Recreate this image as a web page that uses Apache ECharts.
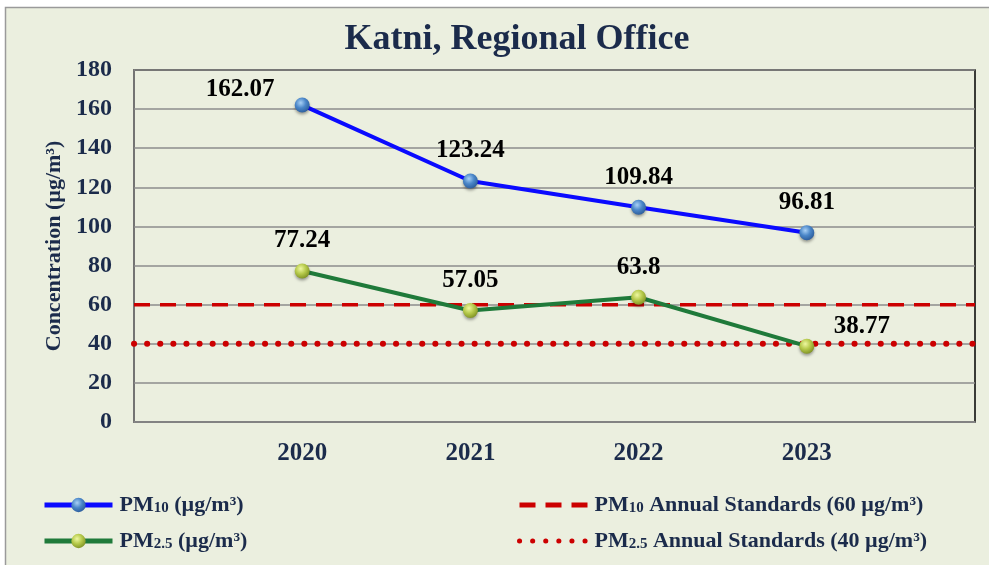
<!DOCTYPE html>
<html><head><meta charset="utf-8">
<script src="https://cdn.jsdelivr.net/npm/echarts@6/dist/echarts.min.js"></script>
<style>html,body{margin:0;padding:0;background:#fff;}#c{width:989px;height:565px;}</style>
</head><body><div id="c"></div>
<script>
const categories = ['', '2020', '2021', '2022', '2023', ''];
const pm10 = [null, 162.07, 123.24, 109.84, 96.81, null];
const pm25 = [null, 77.24, 57.05, 63.8, 38.77, null];
const pm10Standard = 60;
const pm25Standard = 40;
const yTicks = [0, 20, 40, 60, 80, 100, 120, 140, 160, 180];

const serif = '"Liberation Serif","Times New Roman",serif';
const navy = '#1b2b4b';

const pm10Offsets = {1: [-62, 14]};
const pm25Offsets = {4: [55, 10]};

function sphere(c1, c2, c3) {
  return {type: 'radial', x: 0.4, y: 0.35, r: 0.7,
    colorStops: [{offset: 0, color: c1}, {offset: 0.5, color: c2}, {offset: 1, color: c3}]};
}

function mkData(arr, offs) {
  return arr.map((v, i) => {
    if (v == null) return null;
    const d = {value: v};
    if (offs[i]) d.label = {offset: offs[i]};
    return d;
  });
}

const labelStyle = {show: true, position: 'top', distance: 10, fontFamily: serif, fontWeight: 'bold', fontSize: 25, color: '#000'};

const legendRich = {
  a: {fontFamily: serif, fontWeight: 'bold', fontSize: 22, color: navy},
  s: {fontFamily: serif, fontWeight: 'bold', fontSize: 15, color: navy, verticalAlign: 'bottom', padding: [5, 0, 0, 0]}
};
function legendFmt(name) {
  const map = {
    'PM10': '{a|PM}{s|10}{a| (µg/m³)}',
    'PM25': '{a|PM}{s|2.5}{a| (µg/m³)}',
    'PM10S': '{a|PM}{s|10}{a| Annual Standards (' + pm10Standard + ' µg/m³)}',
    'PM25S': '{a|PM}{s|2.5}{a| Annual Standards (' + pm25Standard + ' µg/m³)}'
  };
  return map[name];
}

const chart = echarts.init(document.getElementById('c'));
chart.setOption({
  backgroundColor: '#ffffff',
  graphic: [{type: 'rect', z: -10, shape: {x: 5.5, y: 7.5, width: 1000, height: 600},
    style: {fill: '#ebefdf', stroke: '#9a9a9a', lineWidth: 1.5}}],
  title: {text: 'Katni, Regional Office', left: 512, textAlign: 'center', top: 17,
    textStyle: {fontFamily: serif, fontWeight: 'bold', fontSize: 36, color: navy}},
  legend: [
    {data: ['PM10', 'PM25'], orient: 'vertical', left: 37, top: 489, itemWidth: 68, itemHeight: 18, itemGap: 14,
      formatter: legendFmt, lineStyle: {width: 5}, textStyle: {rich: legendRich, padding: [0, 0, 0, 2]}},
    {data: ['PM10S', 'PM25S'], orient: 'vertical', left: 512, top: 489, itemWidth: 70, itemHeight: 18, itemGap: 14,
      formatter: legendFmt, lineStyle: {width: 5}, itemStyle: {opacity: 0}, textStyle: {rich: legendRich}}
  ],
  grid: {left: 134, right: 14, top: 70, bottom: 143, show: true, borderColor: '#000', borderWidth: 1.5, backgroundColor: 'transparent'},
  xAxis: {type: 'category', data: categories, boundaryGap: false,
    axisLine: {lineStyle: {color: '#888', width: 1.5}}, axisTick: {show: false},
    axisLabel: {fontFamily: serif, fontWeight: 'bold', fontSize: 25, color: navy, margin: 19},
    splitLine: {show: false}},
  yAxis: {type: 'value', min: yTicks[0], max: yTicks[yTicks.length - 1], interval: 20,
    name: 'Concentration (µg/m³)', nameLocation: 'middle', nameGap: 68, nameRotate: 90,
    nameTextStyle: {fontFamily: serif, fontWeight: 'bold', fontSize: 22, color: navy},
    axisLine: {show: true, lineStyle: {color: '#888', width: 1.5}}, axisTick: {show: false},
    axisLabel: {fontFamily: serif, fontWeight: 'bold', fontSize: 24, color: navy, margin: 22},
    splitLine: {lineStyle: {color: '#8c8c8c', width: 1.5}}},
  series: [
    {name: 'PM10S', type: 'line', data: categories.map(() => pm10Standard), symbol: 'none',
      lineStyle: {color: '#cc0000', width: 3.5, type: [16, 10]}, itemStyle: {color: '#cc0000'}, z: 2, silent: true},
    {name: 'PM25S', type: 'line', data: categories.map(() => pm25Standard), symbol: 'none',
      lineStyle: {color: '#cc0000', width: 6, type: [0.1, 13], cap: 'round'}, itemStyle: {color: '#cc0000'}, z: 2, silent: true},
    {name: 'PM10', type: 'line', data: mkData(pm10, pm10Offsets), symbol: 'circle', symbolSize: 15,
      lineStyle: {color: '#0a0aff', width: 4}, itemStyle: {color: sphere('#a8d0f5', '#4a86c8', '#2a5a98'), borderWidth: 0,
      shadowColor: 'rgba(0,0,0,0.35)', shadowBlur: 3, shadowOffsetY: 2},
      label: labelStyle, z: 5},
    {name: 'PM25', type: 'line', data: mkData(pm25, pm25Offsets), symbol: 'circle', symbolSize: 15,
      lineStyle: {color: '#1f7a3a', width: 4}, itemStyle: {color: sphere('#eef7a0', '#b5c94a', '#7c8f22'), borderWidth: 0,
      shadowColor: 'rgba(0,0,0,0.35)', shadowBlur: 3, shadowOffsetY: 2},
      label: labelStyle, z: 5}
  ]
});
</script></body></html>
